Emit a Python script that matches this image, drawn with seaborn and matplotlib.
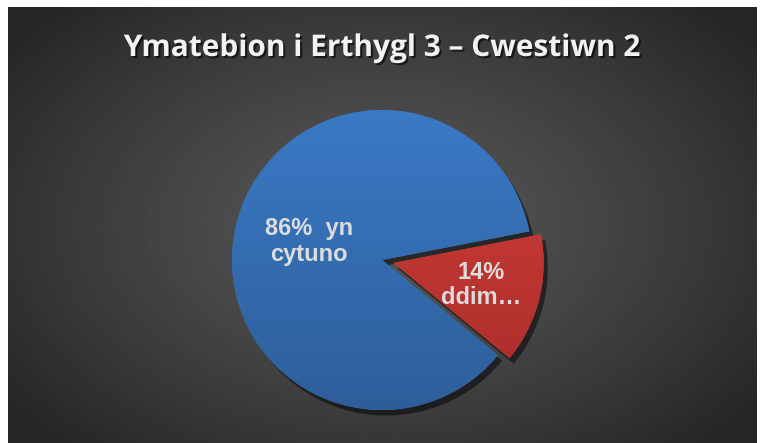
import matplotlib
matplotlib.use("Agg")
import matplotlib.pyplot as plt
import matplotlib.patheffects as pe
import seaborn as sns
import numpy as np

# Chart data
title = "Ymatebion i Erthygl 3 – Cwestiwn 2"
labels = ["86%  yn\ncytuno", "14%\nddim…"]
values = [86, 14]
explode = [0, 0.08]
label_dist = [0.5, 0.6]
colors_top = ["#3B7BC8", "#D5403B"]
colors_bottom = ["#2D5D98", "#A62B29"]

sns.set_style("white")
plt.rcParams['font.family'] = ['Liberation Sans', 'DejaVu Sans']

fig = plt.figure(figsize=(7.65, 4.43), dpi=100)
fig.patch.set_facecolor("white")

# Dark radial-gradient background (white frame on top/left/right)
bg = fig.add_axes([8 / 765, 0, (757 - 8) / 765, (443 - 7) / 443])
yy, xx = np.mgrid[-1:1:300j, -1:1:500j]
rr = np.sqrt(xx ** 2 + (yy * 0.9) ** 2)
bg_vals = 0.34 - 0.19 * np.clip(rr / 1.25, 0, 1) ** 1.3
bg.imshow(bg_vals, cmap="gray", vmin=0, vmax=1, aspect="auto",
          extent=[0, 1, 0, 1], interpolation="bilinear")
bg.set_axis_off()

# Title with soft shadow
fig.text(0.5, 1 - 48 / 443, title, ha="center", va="center",
         fontsize=21.5, fontweight="bold", color="#F2F2F2", family="Open Sans",
         path_effects=[pe.withSimplePatchShadow(offset=(1.5, -1.5),
                                                 shadow_rgbFace="black", alpha=0.6)])

# Pie axes: radius 1 = 150 px, centre at (382, 260)
cx, cy, half = 382, 260, 165
ax = fig.add_axes([(cx - half) / 765, (443 - cy - half) / 443,
                   2 * half / 765, 2 * half / 443])

wedges, texts = ax.pie(values, labels=labels, explode=explode, startangle=11,
                       counterclock=True, labeldistance=0.55,
                       colors=colors_top, radius=1.0, frame=False,
                       wedgeprops=dict(linewidth=0))
ax.set_xlim(-1.1, 1.1)
ax.set_ylim(-1.1, 1.1)
ax.set_aspect("auto")
ax.set_axis_off()

for w in wedges:
    w.set_path_effects([pe.SimplePatchShadow(offset=(3, -4), shadow_rgbFace="black",
                                             alpha=0.5), pe.Normal()])

# vertical gradient fill for each wedge
grad = np.linspace(0, 1, 256).reshape(-1, 1)
for w, ctop, cbot in zip(wedges, colors_top, colors_bottom):
    cmap = matplotlib.colors.LinearSegmentedColormap.from_list("g", [cbot, ctop])
    im = ax.imshow(grad, cmap=cmap, origin="lower", aspect="auto",
                   extent=[-1.1, 1.1, -1.1, 1.1], zorder=w.get_zorder() + 0.1)
    im.set_clip_path(w)

for t, w, d in zip(texts, wedges, label_dist):
    mid = np.deg2rad((w.theta1 + w.theta2) / 2)
    ox, oy = w.center
    t.set_position((ox + d * np.cos(mid), oy + d * np.sin(mid)))
    t.set_ha("center")
    t.set_va("center")
    t.set_fontsize(17)
    t.set_fontweight("bold")
    t.set_color("#DCDCDC")
    t.set_linespacing(1.15)
    t.set_zorder(10)

fig.savefig("out.png", dpi=100)
